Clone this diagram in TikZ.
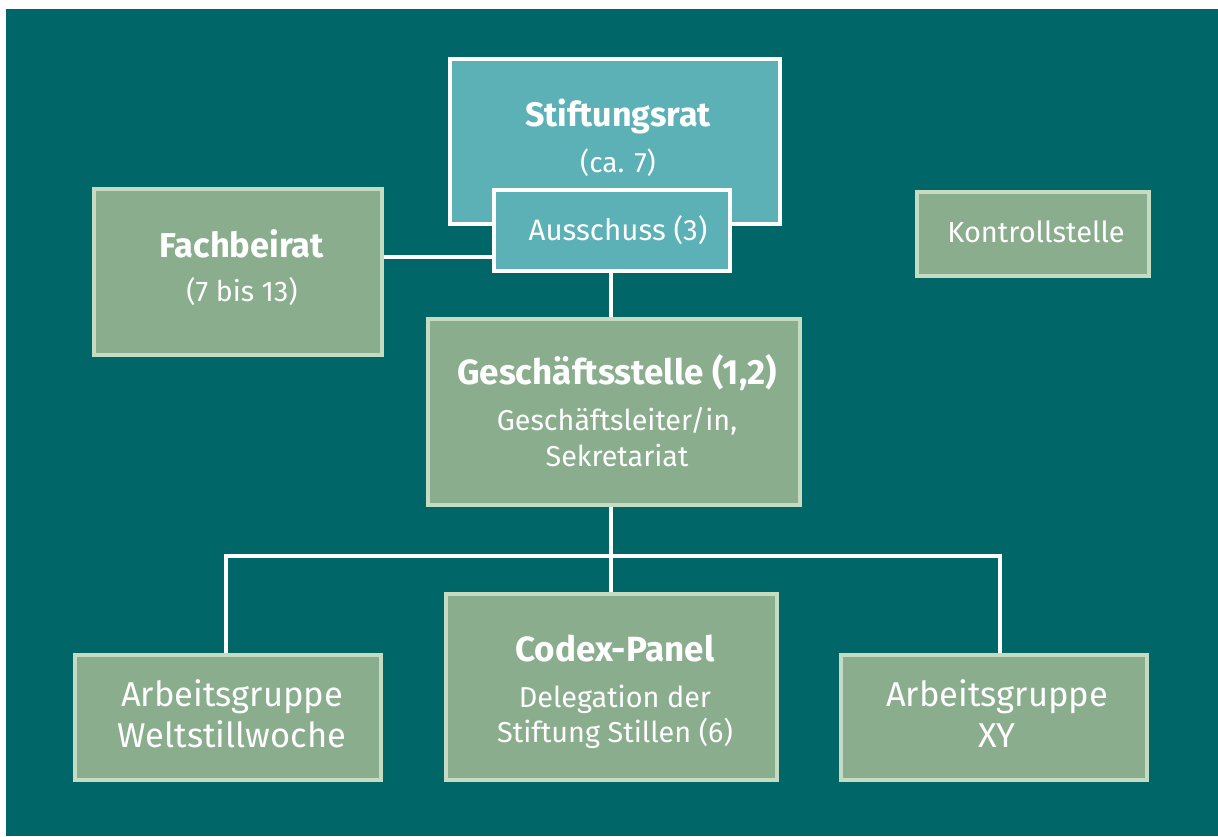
\documentclass[tikz,border=0pt]{standalone}
\usepackage{fontspec}
\setmainfont{Fira Sans}
\definecolor{bgteal}{HTML}{006668}
\definecolor{lightteal}{HTML}{5CB1B6}
\definecolor{boxgreen}{HTML}{8AAD8E}
\definecolor{edgegreen}{HTML}{C5DCC3}
\newcommand{\fsz}[1]{\fontsize{#1}{#1}\selectfont}
\tikzset{
  gbox/.style={draw=edgegreen, fill=boxgreen, line width=3.3pt, inner sep=0pt},
  tbox/.style={draw=white, fill=lightteal, line width=4.3pt, inner sep=0pt},
  txt/.style={text=white, anchor=base, inner sep=0pt},
  conn/.style={draw=white, line width=4.5pt}
}
\begin{document}
\begin{tikzpicture}[x=1pt,y=-1pt]
\useasboundingbox (0,0) rectangle (1218,836);
\fill[white] (0,0) rectangle (1218,836);
\fill[bgteal] (6,9) rectangle (1218,836);

% boxes
\node[tbox, minimum width=330pt, minimum height=165pt] (stift) at (615,141.5) {};
\node[gbox, minimum width=288pt, minimum height=166pt] (fach) at (238,272) {};
\node[gbox, minimum width=232pt, minimum height=84pt] (kontr) at (1033,234) {};
\node[gbox, minimum width=372pt, minimum height=186pt] (gs) at (614,412) {};
\node[gbox, minimum width=306pt, minimum height=125pt] (ag1) at (228,717.5) {};
\node[gbox, minimum width=331pt, minimum height=186pt] (codex) at (611.5,687) {};
\node[gbox, minimum width=306pt, minimum height=125pt] (ag2) at (994,717.5) {};
\coordinate (bar) at (611,556);

% connectors (drawn before Ausschuss box)
\draw[conn] (fach.east |- 0,257) -- (611,257);
\node[tbox, minimum width=236pt, minimum height=81pt] (aus) at (612,230.5) {};
\draw[conn] (aus.south -| bar) -- (gs.north -| bar);
\draw[conn] (gs.south -| bar) -- (codex.north -| bar);
\draw[conn] (ag1.north -| 226,0) |- (bar) -| (ag2.north -| 1000,0);

% texts
\node[txt, font=\bfseries\fsz{34}] (t1) at (618,126) {Stiftungsrat};
\node[txt, font=\fsz{28}] (t2) at (618,172) {(ca. 7)};
\node[txt, font=\fsz{29.5}] (t3) at (618,240) {Ausschuss (3)};
\node[txt, font=\bfseries\fsz{34.5}] (t4) at (242,257) {Fachbeirat};
\node[txt, font=\fsz{28.5}] (t5) at (242,301) {(7 bis 13)};
\node[txt, font=\fsz{29}] (t6) at (1036,242) {Kontrollstelle};
\node[txt, font=\bfseries\fsz{35}] (t7) at (617,384) {Geschäftsstelle (1,2)};
\node[txt, font=\fsz{28.7}] (t8) at (617,430) {Geschäftsleiter/in,};
\node[txt, font=\fsz{28.7}] (t9) at (617,466) {Sekretariat};
\node[txt, font=\fsz{34.5}] (t10) at (232,706) {Arbeitsgruppe};
\node[txt, font=\fsz{34.5}] (t11) at (232,747) {Weltstillwoche};
\node[txt, font=\bfseries\fsz{35}] (t12) at (615,661) {Codex-Panel};
\node[txt, font=\fsz{28.8}] (t13) at (615,707) {Delegation der};
\node[txt, font=\fsz{28.8}] (t14) at (615,742) {Stiftung Stillen (6)};
\node[txt, font=\fsz{34.5}] (t15) at (997,706) {Arbeitsgruppe};
\node[txt, font=\fsz{34.5}] (t16) at (997,747) {XY};
\end{tikzpicture}
\end{document}
